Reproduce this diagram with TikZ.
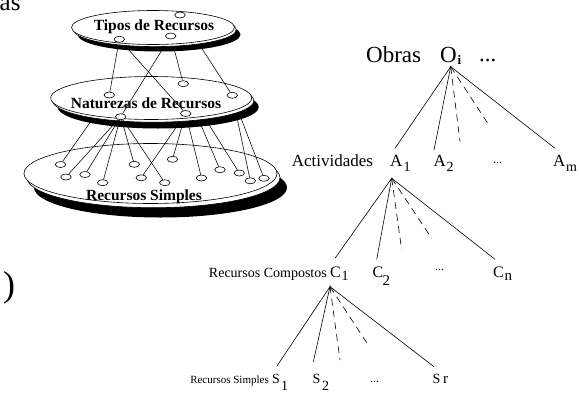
\documentclass[tikz,border=0pt]{standalone}
\usepackage{fontspec}
\setmainfont{Liberation Serif}
\usetikzlibrary{shapes.geometric}
\tikzset{
  ovalpos/.style={ellipse, minimum width=10.5pt, minimum height=6pt, inner sep=0pt},
  oval/.style={ovalpos, draw, fill=white, line width=0.6pt},
  link/.style={line width=0.55pt},
  tline/.style={line width=0.6pt},
  dline/.style={line width=0.6pt, dash pattern=on 7pt off 5pt},
  disklabel/.style={font=\fontsize{15.5}{16}\selectfont\bfseries, inner sep=0pt, anchor=base},
  lbl/.style={inner sep=0pt, anchor=base west},
}
\newcommand\diskdraw[6]{%
  \fill[black] ({#1+#5},{#2+#6}) ellipse [x radius=#3, y radius=#4];
  \filldraw[fill=white,line width=0.6pt] ({#1+0.3*#5},{#2+0.3*#6}) ellipse [x radius=#3, y radius=#4];
  \filldraw[fill=white,line width=0.6pt] (#1,#2) ellipse [x radius=#3, y radius=#4];
}
\begin{document}
\begin{tikzpicture}[x=1pt,y=-1pt]
\useasboundingbox (0,0) rectangle (579,394);

% cut-off fragments at the left edge
\node[lbl, font=\fontsize{25}{25}\selectfont] (frag1) at (-0.5,10) {as};
\node[lbl, font=\fontsize{12}{12}\selectfont] (frag2) at (-2,300) {.};
\node[lbl, font=\fontsize{36}{36}\selectfont] (frag3) at (3,296.5) {)};

% positions of the small ovals
\foreach \n/\x/\y in {t1/180/15, t2/119.3/39.3, t3/170.7/36,
  m1/109.3/95, m2/183.3/83.7, m3/232.3/95.3, m4/120.7/116.7, m5/185.7/113.5,
  b1/60.5/164.5, b2/66/177, b3/85/174.5, b4/102.7/182.7, b5/134.3/164.3,
  b6/141.2/177.8, b7/164.8/182.7, b8/172.5/159.3, b9/201.5/178, b10/220/169.7,
  b11/239.3/173, b12/250.3/180.8, b13/264/178.3}
  \path (\x,\y) node[ovalpos] (\n) {};

% bottom disk
\diskdraw{150.5}{173.5}{126.5}{30}{10}{14}
\node[disklabel] (rs) at (144,200.3) {Recursos Simples};
\foreach \i in {1,...,13} \node[oval] (bv\i) at (b\i) {};
% hidden links middle -> bottom
\foreach \a/\b in {m1/b1, m5/b6, m5/b8, m5/b9, m2/b10, m2/b11, m3/b12, m3/b13}
  \draw[link] (\a) -- (\b);

% middle disk
\diskdraw{151.2}{98}{100.5}{21.5}{7}{9}
\node[disklabel] (nr) at (146,108) {Naturezas de Recursos};
\foreach \b in {b2,b3,b4,b5,b7}
  \draw[link] (m4) -- (\b);
% links top -> middle
\foreach \a/\b in {t2/m1, t2/m5, t3/m4, t3/m2, t1/m3}
  \draw[link] (\a) -- (\b);
\foreach \n in {m1,m2,m3,m4,m5} \node[oval] (v\n) at (\n) {};

% top disk
\diskdraw{153}{27.5}{81.5}{17}{6}{7}
\node[disklabel] (tr) at (154,30) {Tipos de Recursos};
\foreach \n in {t1,t2,t3} \node[oval] (v\n) at (\n) {};

% ---------------- tree ----------------
\node[lbl, font=\fontsize{23}{23}\selectfont] (obras) at (366,62) {Obras};
\node[lbl, font=\fontsize{23}{23}\selectfont] (O) at (440,62) {O};
\node[lbl, font=\fontsize{13}{13}\selectfont\bfseries] (Oi) at (457.5,64.5) {i};
\node[lbl, font=\fontsize{23}{23}\selectfont] (Odots) at (479,61) {...};

\node[lbl, font=\fontsize{17}{17}\selectfont] (act) at (291.7,166.7) {Actividades};
\node[lbl, font=\fontsize{17}{17}\selectfont] (A1) at (390,166.7) {A};
\node[lbl, font=\fontsize{14}{14}\selectfont] (A1s) at (403.5,171.7) {1};
\node[lbl, font=\fontsize{17}{17}\selectfont] (A2) at (433.3,166.7) {A};
\node[lbl, font=\fontsize{14}{14}\selectfont] (A2s) at (446.5,171.7) {2};
\node[lbl, font=\fontsize{12}{12}\selectfont] (Adots) at (493,163.5) {...};
\node[lbl, font=\fontsize{17}{17}\selectfont] (Am) at (553,166.7) {A};
\node[lbl, font=\fontsize{14}{14}\selectfont] (Ams) at (566,171.7) {m};

\node[inner sep=0pt, anchor=base east, font=\fontsize{14}{14}\selectfont] (rc) at (327,277) {Recursos Compostos};
\node[lbl, font=\fontsize{16}{16}\selectfont] (C1) at (330,277) {C};
\node[lbl, font=\fontsize{14}{14}\selectfont] (C1s) at (341.5,280.5) {1};
\node[lbl, font=\fontsize{16}{16}\selectfont] (C2) at (372.5,277) {C};
\node[lbl, font=\fontsize{15}{15}\selectfont] (C2s) at (382.5,285) {2};
\node[lbl, font=\fontsize{12}{12}\selectfont] (Cdots) at (435,270) {...};
\node[lbl, font=\fontsize{16}{16}\selectfont] (Cn) at (493,277) {C};
\node[lbl, font=\fontsize{15}{15}\selectfont] (Cns) at (504.5,280.5) {n};

\node[inner sep=0pt, anchor=base east, font=\fontsize{11}{11}\selectfont] (rsl) at (269,383) {Recursos Simples};
\node[lbl, font=\fontsize{14}{14}\selectfont] (S1) at (272,383) {S};
\node[lbl, font=\fontsize{14}{14}\selectfont] (S1s) at (281,390) {1};
\node[lbl, font=\fontsize{14}{14}\selectfont] (S2) at (312.5,383) {S};
\node[lbl, font=\fontsize{14}{14}\selectfont] (S2s) at (322,390) {2};
\node[lbl, font=\fontsize{12}{12}\selectfont] (Sdots) at (370,382) {...};
\node[lbl, font=\fontsize{14}{14}\selectfont] (Sr) at (432.5,383) {S};
\node[lbl, font=\fontsize{15}{15}\selectfont] (Srs) at (443,383.5) {r};

% connector end points
\coordinate (pO) at (450.7,66.7);
\coordinate (eA1) at (395,148.3);
\coordinate (eA2) at (434,150);
\coordinate (dA1) at (460,141.7);
\coordinate (dA2) at (490,126.7);
\coordinate (eAm) at (555,148.3);
\coordinate (pA) at (391.7,178.3);
\coordinate (eC1) at (335,258.3);
\coordinate (eC2) at (376.7,259.3);
\coordinate (dC1) at (401.7,250);
\coordinate (dC2) at (431.7,238.3);
\coordinate (eCn) at (495,259.3);
\coordinate (pC) at (330,286.7);
\coordinate (eS1) at (277,366);
\coordinate (eS2) at (313.3,362);
\coordinate (dS1) at (340,360);
\coordinate (dS2) at (369.3,346.7);
\coordinate (eSr) at (434,366.7);

\draw[tline] (eA1) -- (pO) -- (eA2);
\draw[tline] (pO) -- (eAm);
\draw[dline] (pO) -- (dA1);
\draw[dline] (pO) -- (dA2);

\draw[tline] (eC1) -- (pA) -- (eC2);
\draw[tline] (pA) -- (eCn);
\draw[dline] (pA) -- (dC1);
\draw[dline] (pA) -- (dC2);

\draw[tline] (eS1) -- (pC) -- (eS2);
\draw[tline] (pC) -- (eSr);
\draw[dline] (pC) -- (dS1);
\draw[dline] (pC) -- (dS2);
\end{tikzpicture}
\end{document}
